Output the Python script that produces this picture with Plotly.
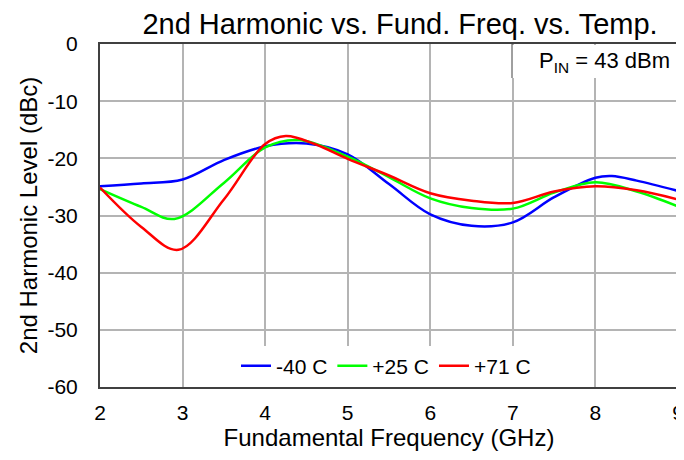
import plotly.graph_objects as go

freq_blue = [2, 2.5, 3, 3.5, 4, 4.5, 5, 5.5, 6, 6.5, 7, 7.5, 8, 8.2, 8.5, 9]
lvl_blue = [-24.9, -24.4, -23.7, -20.3, -17.9, -17.4, -19.3, -24.5, -29.8, -31.8, -31.2, -26.8, -23.4, -23.1, -23.9, -25.7]

freq_green = [2, 2.5, 2.9, 3.5, 4, 4.4, 5, 5.5, 6, 6.5, 7, 7.5, 8, 8.5, 9]
lvl_green = [-25.4, -28.5, -30.6, -24.3, -18.1, -16.8, -19.7, -23.3, -27.0, -28.7, -28.8, -26.0, -24.2, -25.8, -28.4]

freq_red = [2, 2.5, 2.95, 3.5, 4, 4.25, 4.6, 5, 5.5, 6, 6.5, 7, 7.5, 8, 8.5, 9]
lvl_red = [-25.1, -32.0, -36.0, -27.2, -17.5, -16.1, -17.5, -20.1, -23.0, -26.1, -27.4, -27.8, -25.8, -24.9, -25.6, -27.2]

x_ticks = [2, 3, 4, 5, 6, 7, 8, 9]
x_ticktext = ["2", "3", "4", "5", "6", "7", "8", "9"]
y_ticks = [0, -10, -20, -30, -40, -50, -60]
y_ticktext = ["0", "-10", "-20", "-30", "-40", "-50", "-60"]

FONT = "Liberation Sans"
# the page body has an 8 px default margin, so the figure is 8 px smaller
W, H = 676, 452
OFF = 8

fig = go.Figure()
for x, y, name, color in [
    (freq_blue, lvl_blue, "-40 C", "#0000ff"),
    (freq_green, lvl_green, "+25 C", "#00ff00"),
    (freq_red, lvl_red, "+71 C", "#ff0000"),
]:
    fig.add_trace(go.Scatter(x=x, y=y, name=name, mode="lines",
                             line=dict(color=color, width=2.5, shape="spline", smoothing=1.0)))

L, R, T, B = 100 - OFF, 678 - OFF, 44 - OFF, 387 - OFF

fig.update_layout(
    width=W, height=H,
    margin=dict(l=L, r=W - R, t=T, b=H - B, autoexpand=False),
    paper_bgcolor="white", plot_bgcolor="white",
    font=dict(family=FONT, size=21, color="black"),
    title=dict(text="2nd Harmonic vs. Fund. Freq. vs. Temp.", xref="container", x=(400 - OFF) / W,
               xanchor="center", yref="container", y=1 - (24 - OFF) / H, yanchor="middle",
               font=dict(size=29, family=FONT)),
    showlegend=True,
    legend=dict(orientation="h", x=(386 - 100) / 578, xanchor="center", y=(387 - 366) / 343, yanchor="middle",
                bgcolor="white", font=dict(size=21, family=FONT), itemwidth=30, tracegroupgap=0),
)
fig.update_xaxes(range=[2, 9], tickvals=x_ticks, ticktext=x_ticktext, showgrid=True, gridcolor="#b4b4b4",
                 gridwidth=1.5, showline=True, linecolor="#404040", linewidth=2, mirror=True, ticks="",
                 zeroline=False, tickfont=dict(size=21, family=FONT), automargin=False, ticklabelstandoff=6,
                 title=dict(text="Fundamental Frequency (GHz)", font=dict(size=24, family=FONT), standoff=2))
fig.update_yaxes(range=[-60, 0], tickvals=y_ticks, ticktext=y_ticktext, showgrid=True, gridcolor="#b4b4b4",
                 gridwidth=1.5, showline=True, linecolor="#404040", linewidth=2, mirror=True, ticks="",
                 zeroline=False, tickfont=dict(size=21, family=FONT), automargin=False, ticklabelstandoff=16,
                 title=dict(text="2nd Harmonic Level (dBc)", font=dict(size=24, family=FONT), standoff=3))

# P_IN annotation box
bx = (512 - 100) / 578
by = (387 - 78) / 343
fig.add_shape(type="rect", xref="paper", yref="paper", x0=bx, x1=0.997, y0=by, y1=0.997,
              fillcolor="white", line=dict(width=0), layer="above")
fig.add_shape(type="line", xref="paper", yref="paper", x0=bx, x1=bx, y0=by, y1=1,
              line=dict(color="#404040", width=1), layer="above")
fig.add_annotation(xref="paper", yref="paper", x=0.99, y=(387 - 62) / 343, xanchor="right", yanchor="middle",
                   text="P<sub>IN</sub> = 43 dBm", showarrow=False, font=dict(size=22, family=FONT))

fig.write_html("out.html")
